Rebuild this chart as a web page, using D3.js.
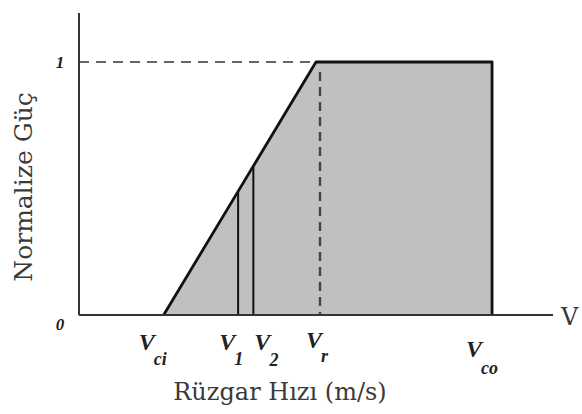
<!DOCTYPE html>
<html>
<head>
<meta charset="utf-8">
<script src="https://cdn.jsdelivr.net/npm/d3@7"></script>
<style>
  html, body { margin: 0; padding: 0; background: #fff; }
  svg { display: block; }
  text { font-family: "Liberation Serif", "DejaVu Serif", serif; fill: #222; }
  text.title { font-family: "DejaVu Serif", "Liberation Serif", serif; fill: #3a3a3a; }
</style>
</head>
<body>
<svg id="chart" width="582" height="414"></svg>
<script>
// Characteristic wind speeds (m/s) and their subscripts
const speedNames = ["ci", "1", "2", "r", "co"];
const speedValues = [5, 9.4, 10.3, 14, 24.4];
// Normalized power curve: cut-in -> rated -> cut-out
const curveSpeeds = [5, 14, 24.4, 24.4];
const curvePower = [0, 1, 1, 0];
// Marked intermediate speeds with vertical lines
const markSpeeds = [9.4, 10.3];
const yTickLabels = ["0", "1"];
const yTickValues = [0, 1];

const svg = d3.select("#chart");
const x = d3.scaleLinear().domain([0, 28]).range([79, 553]);
const y = d3.scaleLinear().domain([0, 1]).range([315, 62]);

const power = v => v <= 5 ? 0 : v >= 14 ? 1 : (v - 5) / 9;

// filled area under the curve
const curve = curveSpeeds.map((s, i) => [s, curvePower[i]]);
svg.append("path")
  .datum([[5, 0], ...curve])
  .attr("d", d3.line().x(d => x(d[0])).y(d => y(d[1])))
  .attr("fill", "#c0c0c0")
  .attr("stroke", "none");

// reference dashed lines at rated power and rated speed
svg.append("line")
  .attr("x1", x(0)).attr("x2", x(14))
  .attr("y1", y(1)).attr("y2", y(1))
  .attr("stroke", "#666").attr("stroke-width", 2.2)
  .attr("stroke-dasharray", "10,7");
svg.append("line")
  .attr("x1", x(14) + 4).attr("x2", x(14) + 4)
  .attr("y1", y(1) + 10).attr("y2", y(0))
  .attr("stroke", "#444").attr("stroke-width", 2.4)
  .attr("stroke-dasharray", "9,6");

// vertical marks at V1 and V2
svg.selectAll("line.mark")
  .data(markSpeeds)
  .join("line")
  .attr("class", "mark")
  .attr("x1", d => x(d)).attr("x2", d => x(d))
  .attr("y1", y(0)).attr("y2", d => y(power(d)))
  .attr("stroke", "#111").attr("stroke-width", 2);

// power curve outline
svg.append("path")
  .datum(curve)
  .attr("d", d3.line().x(d => x(d[0])).y(d => y(d[1])))
  .attr("fill", "none")
  .attr("stroke", "#111")
  .attr("stroke-width", 2.8)
  .attr("stroke-linejoin", "round");

// axes
svg.append("line")
  .attr("x1", x(0)).attr("x2", x(0))
  .attr("y1", 13).attr("y2", y(0))
  .attr("stroke", "#333").attr("stroke-width", 2);
svg.append("line")
  .attr("x1", x(0)).attr("x2", x(28))
  .attr("y1", y(0)).attr("y2", y(0))
  .attr("stroke", "#333").attr("stroke-width", 2);

// y tick labels
svg.selectAll("text.ytick")
  .data(yTickValues)
  .join("text")
  .attr("class", "ytick")
  .attr("x", 60)
  .attr("y", d => y(d) + (d === 0 ? 15 : 6))
  .attr("text-anchor", "middle")
  .attr("font-style", "italic")
  .attr("font-weight", "bold")
  .attr("font-size", 17)
  .text((d, i) => yTickLabels[i]);

// x tick labels: V with subscript (horizontal shift, baseline, subscript drop)
const labelShift = { "ci": [-25, 350, 15], "1": [-19, 350, 15], "2": [1, 350, 16], "r": [-10, 348, 14], "co": [-26, 357, 17] };
speedNames.forEach((name, i) => {
  const [dx, base, sub] = labelShift[name];
  const t = svg.append("text")
    .attr("x", x(speedValues[i]) + dx)
    .attr("y", base)
    .attr("font-style", "italic")
    .attr("font-weight", "bold")
    .attr("font-size", 24);
  t.append("tspan").text("V");
  t.append("tspan").attr("dy", sub).attr("dx", -1).attr("font-size", 18).text(name);
});

// axis end label
svg.append("text")
  .attr("class", "title")
  .attr("x", 561).attr("y", 325)
  .attr("font-size", 24)
  .text("V");

// axis titles
svg.append("text")
  .attr("class", "title")
  .attr("transform", "translate(32,187) rotate(-90)")
  .attr("text-anchor", "middle")
  .attr("font-size", 25)
  .text("Normalize Güç");
svg.append("text")
  .attr("class", "title")
  .attr("x", 280).attr("y", 400)
  .attr("text-anchor", "middle")
  .attr("font-size", 24)
  .text("Rüzgar Hızı (m/s)");
</script>
</body>
</html>
